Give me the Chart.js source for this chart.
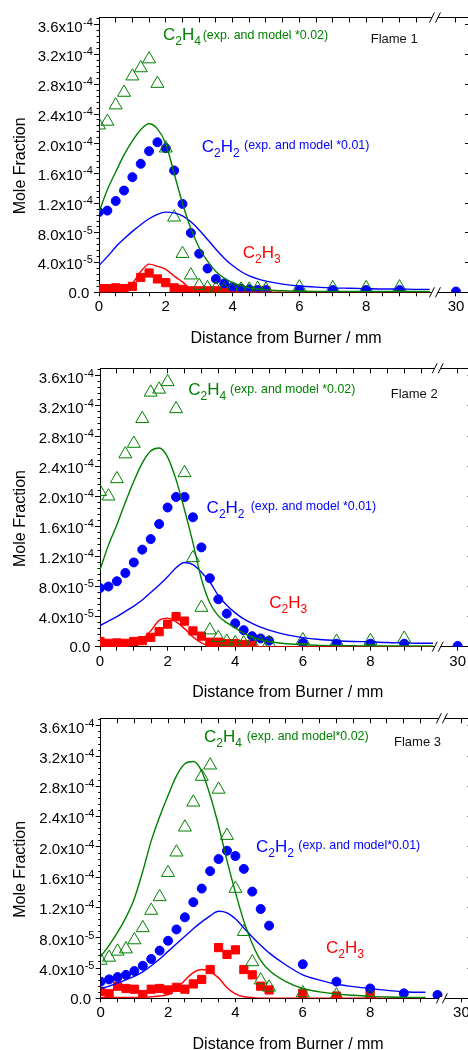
<!DOCTYPE html>
<html>
<head>
<meta charset="utf-8">
<script src="https://cdn.jsdelivr.net/npm/chart.js@4.4.0/dist/chart.umd.min.js"></script>
<style>
  html, body { margin: 0; padding: 0; background: #fff; overflow: hidden; }
  .panel { width: 468px; height: 350px; overflow: hidden; position: relative; }
  canvas { display: block; }
</style>
</head>
<body>
<div class="panel"><canvas id="flame1" width="480" height="350"></canvas></div>
<div class="panel"><canvas id="flame2" width="480" height="350"></canvas></div>
<div class="panel"><canvas id="flame3" width="480" height="350"></canvas></div>
<script>
// mole fractions are given in units of 1e-4 (C2H4 already *0.02, C2H2 *0.01)
const expDist  = [0, 0.25, 0.5, 0.75, 1, 1.25, 1.5, 1.75, 2, 2.25, 2.5, 2.75, 3, 3.25, 3.5, 3.75, 4, 4.25, 4.5, 4.75, 5, 6, 7, 8, 9, 30];
const expDist3 = [0, 0.25, 0.5, 0.75, 1, 1.25, 1.5, 1.75, 2, 2.25, 2.5, 2.75, 3, 3.25, 3.5, 3.75, 4, 4.25, 4.5, 4.75, 5, 6, 7, 8, 9, 10];

const modelDist1 = [0, 0.25, 0.5, 0.75, 1, 1.25, 1.5, 1.75, 2, 2.25, 2.5, 2.75, 3, 3.25, 3.5, 3.75, 4, 4.25, 4.5, 4.75, 5, 5.5, 6, 6.5, 7, 7.5, 8, 8.5, 9, 9.5, 9.9];
const modelDist2 = [0, 0.25, 0.5, 0.75, 1, 1.25, 1.5, 1.75, 2, 2.25, 2.5, 2.75, 3, 3.25, 3.5, 3.75, 4, 4.25, 4.5, 4.75, 5, 5.5, 6, 6.5, 7, 7.5, 8, 8.5, 9, 9.5, 9.85];
const modelDist3 = [0, 0.25, 0.5, 0.75, 1, 1.25, 1.5, 1.75, 2, 2.25, 2.5, 2.75, 3, 3.25, 3.5, 3.75, 4, 4.25, 4.5, 4.75, 5, 5.5, 6, 6.5, 7, 7.5, 8, 8.5, 9, 9.5, 9.64];

// Flame 1
const f1C2H4 = [2.25, 2.30, 2.52, 2.69, 2.91, 3.02, 3.14, 2.81, 1.94, 1.01, 0.52, 0.23, 0.09, 0.06, 0.05, 0.04, 0.04, 0.04, 0.04, 0.05, 0.04, 0.07, 0.06, 0.06, 0.07, null];
const f1C2H2 = [1.08, 1.10, 1.23, 1.37, 1.55, 1.73, 1.90, 2.02, 1.94, 1.64, 1.19, 0.80, 0.52, 0.32, 0.18, 0.12, 0.07, 0.05, 0.04, 0.03, 0.03, 0.03, 0.03, 0.03, 0.03, 0.01];
const f1C2H3 = [0.05, 0.05, 0.06, 0.05, 0.08, 0.20, 0.26, 0.18, 0.13, 0.06, 0.04, 0.02, 0.02, 0.02, 0.02, 0.02, 0.02, 0.02, 0.02, 0.02, 0.02, null, null, null, null, null];
const m1C2H4 = [1.08, 1.38, 1.62, 1.85, 2.04, 2.19, 2.27, 2.20, 2.00, 1.60, 1.20, 0.86, 0.60, 0.42, 0.28, 0.19, 0.13, 0.09, 0.06, 0.045, 0.035, 0.02, 0.015, 0.012, 0.01, 0.01, 0.01, 0.01, 0.01, 0.01, 0.01];
const m1C2H2 = [0.36, 0.48, 0.61, 0.72, 0.82, 0.91, 0.99, 1.05, 1.08, 1.07, 1.03, 0.95, 0.84, 0.71, 0.58, 0.46, 0.36, 0.28, 0.22, 0.18, 0.15, 0.11, 0.085, 0.07, 0.06, 0.055, 0.05, 0.045, 0.045, 0.04, 0.04];
const m1C2H3 = [0.01, 0.01, 0.01, 0.03, 0.12, 0.28, 0.38, 0.35, 0.31, 0.22, 0.14, 0.04, 0.01, 0, 0, 0, 0, 0, 0, 0, 0, 0, 0, 0, 0, 0, 0, 0, 0, 0, 0];

// Flame 2
const f2C2H4 = [2.06, 2.00, 2.23, 2.56, 2.70, 3.03, 3.38, 3.42, 3.52, 3.16, 2.31, 1.18, 0.52, 0.22, 0.12, 0.07, 0.05, 0.05, 0.05, 0.05, 0.05, 0.09, 0.07, 0.08, 0.11, null];
const f2C2H2 = [0.78, 0.80, 0.87, 0.98, 1.12, 1.29, 1.43, 1.63, 1.85, 1.99, 1.99, 1.72, 1.32, 0.91, 0.63, 0.44, 0.31, 0.22, 0.14, 0.11, 0.08, 0.05, 0.04, 0.04, 0.04, 0.01];
const f2C2H3 = [0.07, 0.045, 0.05, 0.045, 0.07, 0.08, 0.125, 0.20, 0.30, 0.40, 0.34, 0.21, 0.14, 0.06, 0.06, 0.04, 0.04, 0.03, 0.03, null, null, null, null, null, null, null];
const m2C2H4 = [1.02, 1.35, 1.62, 1.92, 2.20, 2.44, 2.60, 2.64, 2.52, 2.22, 1.82, 1.38, 0.90, 0.58, 0.41, 0.32, 0.25, 0.18, 0.13, 0.09, 0.065, 0.04, 0.025, 0.018, 0.014, 0.012, 0.01, 0.01, 0.01, 0.01, 0.01];
const m2C2H2 = [0.28, 0.34, 0.40, 0.47, 0.54, 0.62, 0.72, 0.82, 0.93, 1.05, 1.12, 1.09, 0.99, 0.86, 0.68, 0.55, 0.45, 0.37, 0.31, 0.26, 0.22, 0.16, 0.12, 0.095, 0.08, 0.07, 0.065, 0.055, 0.05, 0.045, 0.045];
const m2C2H3 = [0, 0, 0, 0.01, 0.03, 0.10, 0.21, 0.35, 0.38, 0.33, 0.24, 0.13, 0.05, 0.01, 0, 0, 0, 0, 0, 0, 0, 0, 0, 0, 0, 0, 0, 0, 0, 0, 0];

// Flame 3
const f3C2H4 = [0.50, 0.54, 0.62, 0.65, 0.77, 0.93, 1.16, 1.34, 1.66, 1.93, 2.26, 2.59, 2.93, 3.08, 2.76, 2.15, 1.45, 0.88, 0.48, 0.24, 0.145, 0.07, 0.04, 0.03, null, null];
const f3C2H2 = [0.22, 0.25, 0.28, 0.31, 0.36, 0.43, 0.52, 0.63, 0.76, 0.91, 1.07, 1.27, 1.45, 1.68, 1.84, 1.95, 1.88, 1.71, 1.41, 1.18, 0.96, 0.45, 0.22, 0.13, 0.066, 0.044];
const f3C2H3 = [0.09, 0.06, 0.16, 0.13, 0.12, 0.05, 0.12, 0.13, 0.11, 0.145, 0.12, 0.19, 0.25, 0.38, 0.67, 0.58, 0.64, 0.38, 0.31, 0.16, 0.11, 0.066, 0.03, 0.057, null, null];
const m3C2H4 = [0.55, 0.70, 0.87, 1.07, 1.32, 1.68, 2.08, 2.40, 2.68, 2.94, 3.10, 3.13, 3.00, 2.68, 2.28, 1.82, 1.40, 1.02, 0.72, 0.50, 0.37, 0.22, 0.13, 0.085, 0.057, 0.04, 0.025, 0.018, 0.013, 0.01, 0.01];
const m3C2H2 = [0.13, 0.16, 0.20, 0.245, 0.29, 0.35, 0.43, 0.52, 0.62, 0.72, 0.82, 0.92, 1.01, 1.09, 1.15, 1.13, 1.05, 0.93, 0.81, 0.70, 0.60, 0.44, 0.31, 0.24, 0.185, 0.155, 0.13, 0.105, 0.087, 0.08, 0.08];
const m3C2H3 = [0.01, 0.01, 0.01, 0.01, 0.01, 0.01, 0.02, 0.03, 0.05, 0.13, 0.24, 0.34, 0.38, 0.35, 0.27, 0.14, 0.06, 0.02, 0.01, 0, 0, 0, 0, 0, 0, 0, 0, 0, 0, 0, 0];

// axis ticks
const xTickMm = [0, 0.5, 1, 1.5, 2, 2.5, 3, 3.5, 4, 4.5, 5, 5.5, 6, 6.5, 7, 7.5, 8, 8.5, 9, 9.5];
const xLabelMm = [0, 2, 4, 6, 8];
const farLabel = '30';
const yTickValues = [0, 0.4, 0.8, 1.2, 1.6, 2.0, 2.4, 2.8, 3.2, 3.6];
const yTickMantissa = ['0.0', '4.0x10', '8.0x10', '1.2x10', '1.6x10', '2.0x10', '2.4x10', '2.8x10', '3.2x10', '3.6x10'];
const yTickExponent = ['', '-5', '-5', '-4', '-4', '-4', '-4', '-4', '-4', '-4'];

const FONT = "'Liberation Sans', Arial, Helvetica, sans-serif";
const GREEN = 'rgb(0,128,0)';
const BLUE = 'rgb(0,0,255)';
const RED = 'rgb(255,0,0)';
const H = 350;

const panels = [
    { id: 'flame1', name: 'Flame 1', L: 99, R: 469, T: 17.5, B: 292.3, xMax: 11.08, breakPos: 10.06, farPos: 10.69,
      expDist: expDist, c2h4: f1C2H4, c2h2: f1C2H2, c2h3: f1C2H3,
      modelDist: modelDist1, m2h4: m1C2H4, m2h2: m1C2H2, m2h3: m1C2H3,
      txt: { c2h4: [163, 40], n4: [202.7, 39, '(exp. and model *0.02)'], flame: [370.7, 42.5],
             c2h2: [201.7, 151.7], n2: [244, 149, '(exp. and model *0.01)'], c2h3: [242.7, 258] } },
    { id: 'flame2', name: 'Flame 2', L: 100, R: 476, T: 18.3, B: 296.7, xMax: 10.99, breakPos: 9.99, farPos: 10.58,
      expDist: expDist, c2h4: f2C2H4, c2h2: f2C2H2, c2h3: f2C2H3,
      modelDist: modelDist2, m2h4: m2C2H4, m2h2: m2C2H2, m2h3: m2C2H3,
      txt: { c2h4: [188.3, 45], n4: [230, 42.5, '(exp. and model *0.02)'], flame: [390.7, 48],
             c2h2: [206.6, 163], n2: [250.7, 160, '(exp. and model *0.01)'], c2h3: [269.3, 258.3] } },
    { id: 'flame3', name: 'Flame 3', L: 100.7, R: 475, T: 18.3, B: 298.3, xMax: 11.01, breakPos: 10.13, farPos: 10.71,
      expDist: expDist3, c2h4: f3C2H4, c2h2: f3C2H2, c2h3: f3C2H3,
      modelDist: modelDist3, m2h4: m3C2H4, m2h2: m3C2H2, m2h3: m3C2H3,
      txt: { c2h4: [204, 42], n4: [246.7, 40, '(exp. and model*0.02)'], flame: [394, 45.7],
             c2h2: [256, 151.7], n2: [298.3, 149, '(exp. and model*0.01)'], c2h3: [326, 253] } }
];

// points beyond the axis break (30 mm) are drawn just after the "//"
function axisX(p, d) {
    return d > 20 ? p.farPos + (d - 30) * 0.1 : d;
}

function toPoints(p, dist, values) {
    const pts = [];
    dist.forEach((d, i) => {
        if (values[i] !== null) pts.push({ x: axisX(p, d), y: values[i] });
    });
    return pts;
}

function modelSet(p, values, color) {
    return {
        data: toPoints(p, p.modelDist, values),
        borderColor: color, borderWidth: 1.4, pointRadius: 0,
        cubicInterpolationMode: 'monotone', fill: false, order: 0
    };
}

function drawChem(ctx, x, y, color, atoms) {
    ctx.fillStyle = color;
    ctx.textAlign = 'left';
    ctx.textBaseline = 'alphabetic';
    for (const [sym, sub] of atoms) {
        ctx.font = '17px ' + FONT;
        ctx.fillText(sym, x, y);
        x += ctx.measureText(sym).width;
        ctx.font = '12px ' + FONT;
        ctx.fillText(sub, x, y + 5);
        x += ctx.measureText(sub).width;
    }
}

function line(ctx, x1, y1, x2, y2) {
    ctx.beginPath();
    ctx.moveTo(x1, y1);
    ctx.lineTo(x2, y2);
    ctx.stroke();
}

const framePlugin = {
    id: 'frame',
    afterDraw(chart) {
        const p = chart.options.plugins.frame.panel;
        const ctx = chart.ctx;
        const xs = chart.scales.x, ys = chart.scales.y;
        const { left, right, top, bottom } = chart.chartArea;
        const al = v => Math.round(v - 0.5) + 0.5;
        ctx.save();
        ctx.strokeStyle = '#000';
        ctx.lineWidth = 1;

        // top and right axes, ticks pointing inward
        line(ctx, left, al(top), right, al(top));
        line(ctx, al(right), top, al(right), bottom);
        for (const v of xTickMm.concat([p.farPos])) {
            const px = al(xs.getPixelForValue(v));
            line(ctx, px, top, px, top + 5);
        }
        for (const v of yTickValues) {
            const py = al(ys.getPixelForValue(v));
            line(ctx, right, py, right - 4, py);
            line(ctx, left - 5, py, left, py);
        }

        // axis break
        const bx = xs.getPixelForValue(p.breakPos);
        ctx.fillStyle = '#fff';
        ctx.fillRect(bx - 3, al(bottom) - 1.5, 6, 3);
        ctx.fillRect(bx - 3, al(top) - 1.5, 6, 3);
        for (const y0 of [top, bottom]) {
            for (const dx of [-3, 3]) line(ctx, bx + dx - 2.5, y0 + 5, bx + dx + 2.5, y0 - 5);
        }

        // y tick labels with exponents
        ctx.fillStyle = '#000';
        ctx.textBaseline = 'alphabetic';
        yTickValues.forEach((v, i) => {
            const py = ys.getPixelForValue(v);
            ctx.font = '15px ' + FONT;
            ctx.textAlign = 'right';
            if (yTickExponent[i] === '') {
                ctx.fillText(yTickMantissa[i], left - 9.7, py + 5.4);
            } else {
                ctx.fillText(yTickMantissa[i], left - 16.3, py + 6.8);
                ctx.font = '11px ' + FONT;
                ctx.textAlign = 'left';
                ctx.fillText(yTickExponent[i], left - 16, py + 0.8);
            }
        });

        // axis titles
        ctx.font = '16px ' + FONT;
        ctx.textAlign = 'center';
        ctx.fillText('Distance from Burner / mm', (left + right) / 2 + 2, bottom + 50.7);
        ctx.save();
        ctx.translate(19.5, (top + bottom) / 2 + 11);
        ctx.rotate(-Math.PI / 2);
        ctx.fillText('Mole Fraction', 0, 5.7);
        ctx.restore();

        // species labels
        const t = p.txt;
        drawChem(ctx, t.c2h4[0], t.c2h4[1], GREEN, [['C', '2'], ['H', '4']]);
        drawChem(ctx, t.c2h2[0], t.c2h2[1], BLUE, [['C', '2'], ['H', '2']]);
        drawChem(ctx, t.c2h3[0], t.c2h3[1], RED, [['C', '2'], ['H', '3']]);
        ctx.font = '12.4px ' + FONT;
        ctx.textAlign = 'left';
        ctx.fillStyle = GREEN;
        ctx.fillText(t.n4[2], t.n4[0], t.n4[1]);
        ctx.fillStyle = BLUE;
        ctx.fillText(t.n2[2], t.n2[0], t.n2[1]);
        ctx.font = '13px ' + FONT;
        ctx.fillStyle = '#111';
        ctx.fillText(p.name, t.flame[0], t.flame[1]);
        ctx.restore();
    }
};

function buildChart(p) {
    const canvas = document.getElementById(p.id);
    const W = canvas.width;
    const config = {
        type: 'line',
        data: {
            datasets: [
                modelSet(p, p.m2h4, GREEN),
                modelSet(p, p.m2h2, BLUE),
                modelSet(p, p.m2h3, RED),
                {
                    data: toPoints(p, p.expDist, p.c2h4), showLine: false, order: 1,
                    pointStyle: 'triangle', pointRadius: 7.5, pointBorderWidth: 1,
                    pointBorderColor: GREEN, pointBackgroundColor: 'rgba(255,255,255,0)'
                },
                {
                    data: toPoints(p, p.expDist, p.c2h2), showLine: false, order: 2,
                    pointStyle: 'circle', pointRadius: 4.5, pointBorderWidth: 1,
                    pointBorderColor: BLUE, pointBackgroundColor: BLUE
                },
                {
                    data: toPoints(p, p.expDist, p.c2h3), showLine: false, order: 3,
                    pointStyle: 'rect', pointRadius: 5.8, pointBorderWidth: 1,
                    pointBorderColor: RED, pointBackgroundColor: RED
                }
            ]
        },
        options: {
            responsive: false,
            animation: false,
            devicePixelRatio: 1,
            layout: { padding: { left: 0, right: W - p.R, top: p.T, bottom: 0 } },
            plugins: { legend: { display: false }, tooltip: { enabled: false }, frame: { panel: p } },
            scales: {
                x: {
                    type: 'linear', min: 0, max: p.xMax,
                    afterBuildTicks: s => { s.ticks = xTickMm.concat([p.farPos]).map(v => ({ value: v })); },
                    afterFit: s => { s.height = H - p.B; },
                    ticks: {
                        autoSkip: false, maxRotation: 0, minRotation: 0, padding: 2,
                        color: '#000', font: { family: FONT, size: 15 },
                        callback: v => {
                            if (Math.abs(v - p.farPos) < 1e-6) return farLabel;
                            return xLabelMm.includes(v) ? String(v) : '';
                        }
                    },
                    grid: { drawOnChartArea: false, drawTicks: true, tickLength: 4, color: '#000' },
                    border: { display: true, color: '#000', width: 1 }
                },
                y: {
                    type: 'linear', min: 0, max: 3.7,
                    afterBuildTicks: s => {
                        const ticks = [];
                        for (let k = 0; k <= 46; k++) ticks.push({ value: k * 0.08 });
                        s.ticks = ticks;
                    },
                    afterFit: s => { s.width = p.L; },
                    ticks: { display: false },
                    grid: { drawOnChartArea: false, drawTicks: true, tickLength: 2.5, color: '#000' },
                    border: { display: true, color: '#000', width: 1 }
                }
            }
        },
        plugins: [framePlugin]
    };
    return new Chart(canvas.getContext('2d'), config);
}

panels.forEach(buildChart);
</script>
</body>
</html>
